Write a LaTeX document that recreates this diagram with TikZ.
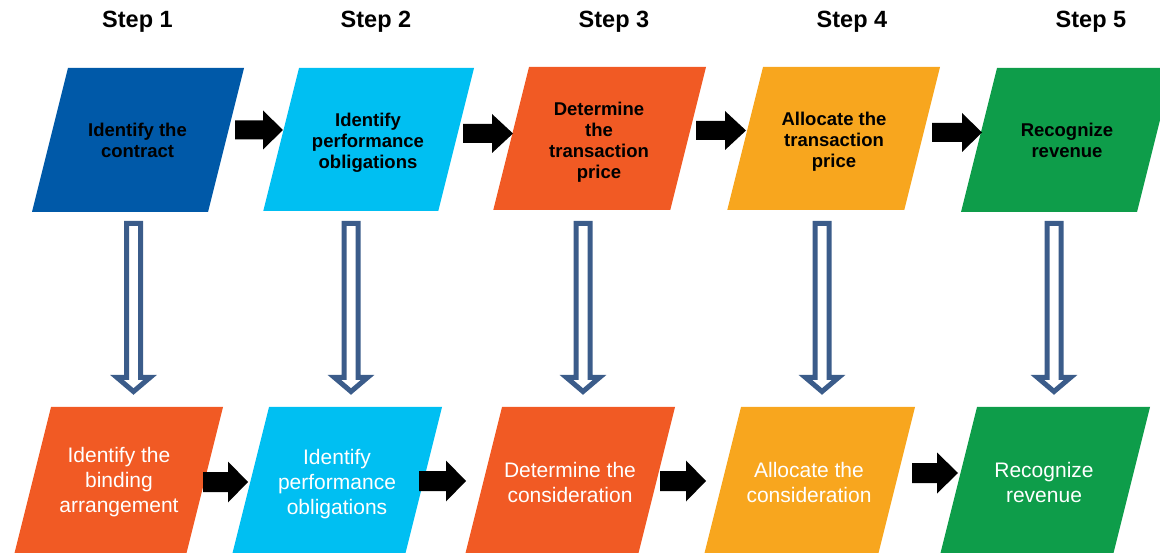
\documentclass[tikz,border=0pt]{standalone}
\usepackage{fontspec}
\setmainfont{Liberation Sans}
\definecolor{cdblue}{RGB}{0,89,168}
\definecolor{ccyan}{RGB}{0,191,242}
\definecolor{corange}{RGB}{241,90,36}
\definecolor{cyellow}{RGB}{248,166,30}
\definecolor{cgreen}{RGB}{14,157,74}
\definecolor{harblue}{RGB}{59,92,138}
\tikzset{
  toptxt/.style={font=\bfseries\fontsize{18.5}{21}\selectfont, align=center, text=black, inner sep=0pt},
  bottxt/.style={font=\fontsize{21}{25}\selectfont, align=center, text=white, inner sep=0pt},
  steptxt/.style={font=\bfseries\fontsize{23.5}{28}\selectfont, text=black, inner sep=0pt},
  harrow/.style={draw=harblue, fill=white, line width=5pt, miter limit=10},
  barrow/.style={fill=black}
}
% parallelogram: TLx, top, bottom, width, colour
\newcommand\pgram[5]{%
  \fill[#5] (#1,#2) -- ({#1+#4},#2) -- ({#1+#4-0.25*(#3-#2)},#3) -- ({#1-0.25*(#3-#2)},#3) -- cycle;}
% black block arrow: x start, x tip, y centre, x where head begins, half shaft, half head
\newcommand\blarrow[6]{%
  \fill[barrow] (#1,{#3-#5}) -- (#4,{#3-#5}) -- (#4,{#3-#6}) -- (#2,#3) -- (#4,{#3+#6}) -- (#4,{#3+#5}) -- (#1,{#3+#5}) -- cycle;}
% hollow down arrow: x centre
\newcommand\hdarrow[1]{%
  \draw[harrow] ({#1-7},223.5) -- ({#1+7},223.5) -- ({#1+7},377.5) -- ({#1+16.5},377.5) -- (#1,391.5) -- ({#1-16.5},377.5) -- ({#1-7},377.5) -- cycle;}
\begin{document}
\begin{tikzpicture}[x=1pt,y=-1pt]
\useasboundingbox (0,0) rectangle (1160,553);
\clip (0,0) rectangle (1160,553);
% step labels
\node[steptxt] (s1) at (137.5,21.5) {Step 1};
\node[steptxt] (s2) at (376,21.5) {Step 2};
\node[steptxt] (s3) at (614,21.5) {Step 3};
\node[steptxt] (s4) at (852,21.5) {Step 4};
\node[steptxt] (s5) at (1091,21.5) {Step 5};
% top row boxes
\pgram{68}{68}{212}{176}{cdblue}
\pgram{299}{68}{211}{175}{ccyan}
\pgram{529}{67}{210}{177}{corange}
\pgram{763}{67}{210}{177}{cyellow}
\pgram{997}{68}{212}{176}{cgreen}
\node[toptxt] (t1) at (137.5,140) {Identify the\\contract};
\node[toptxt] (t2) at (368,143) {Identify\\performance\\obligations};
\node[toptxt] (t3) at (599,142) {Determine\\the\\transaction\\price};
\node[toptxt] (t4) at (834,142) {Allocate the\\transaction\\price};
\node[toptxt] (t5) at (1067,140) {Recognize\\revenue};
% top arrows
\blarrow{235}{283}{130}{263}{9.5}{19.5}
\blarrow{463}{513}{133.5}{492}{9.5}{19.5}
\blarrow{696}{746}{130.5}{725}{9.5}{19.5}
\blarrow{932}{982}{132.5}{962}{9.5}{19.5}
% hollow arrows
\hdarrow{133.5}
\hdarrow{351}
\hdarrow{583}
\hdarrow{822}
\hdarrow{1054}
% bottom row boxes
\pgram{51}{407}{560}{172}{corange}
\pgram{269}{407}{560}{173}{ccyan}
\pgram{502}{407}{560}{173}{corange}
\pgram{741}{407}{560}{174}{cyellow}
\pgram{977}{407}{560}{173}{cgreen}
\node[bottxt] (b1) at (119,482.5) {Identify the\\binding\\arrangement};
\node[bottxt] (b2) at (337,484) {Identify\\performance\\obligations};
\node[bottxt] (b3) at (570,482) {Determine the\\consideration};
\node[bottxt] (b4) at (809,482.5) {Allocate the\\consideration};
\node[bottxt] (b5) at (1044,482.5) {Recognize\\revenue};
% bottom arrows
\blarrow{203}{248}{482}{228}{10}{20.5}
\blarrow{419}{466}{481}{446}{10}{20.5}
\blarrow{660}{706}{481}{686}{10}{20.5}
\blarrow{912}{958}{473}{937}{10}{20.5}
\end{tikzpicture}
\end{document}
